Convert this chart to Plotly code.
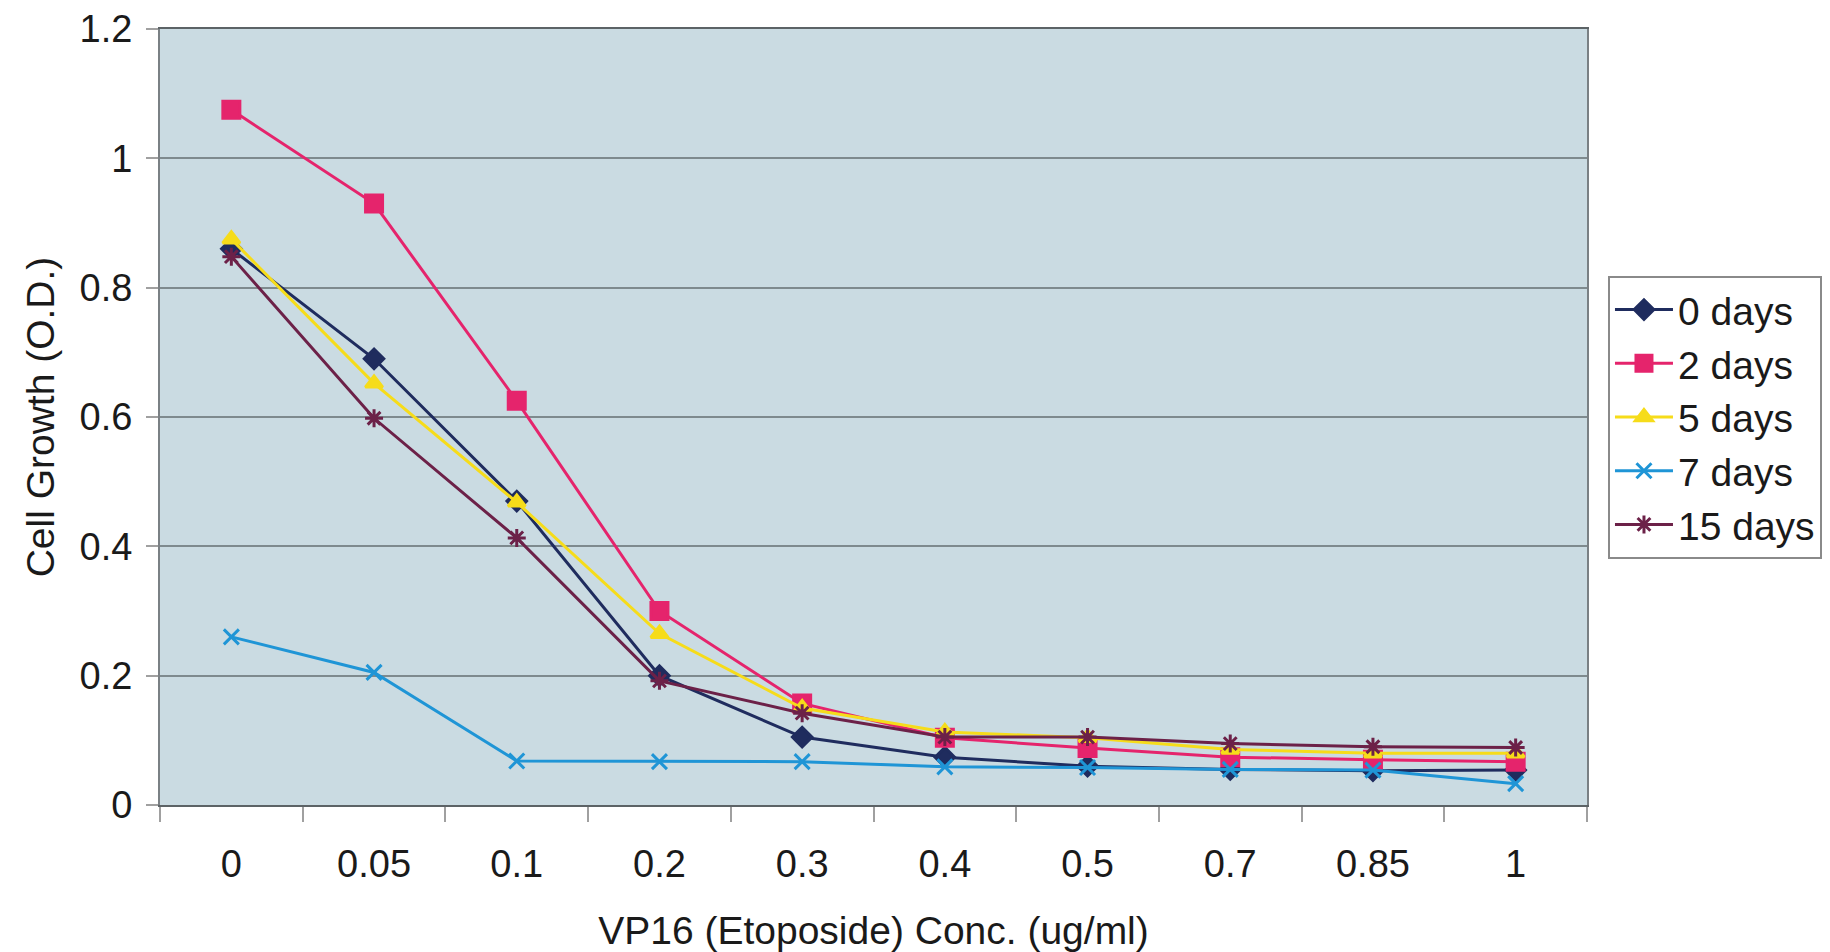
import plotly.graph_objects as go

# VP16 (etoposide) concentrations in ug/ml, plotted as categories
concentrations = ["0", "0.05", "0.1", "0.2", "0.3", "0.4", "0.5", "0.7", "0.85", "1"]

# Cell growth (O.D.) after each recovery period
days_0 = [0.86, 0.69, 0.47, 0.20, 0.105, 0.074, 0.060, 0.055, 0.053, 0.054]
days_2 = [1.075, 0.93, 0.625, 0.30, 0.157, 0.104, 0.088, 0.074, 0.070, 0.067]
days_5 = [0.875, 0.652, 0.468, 0.265, 0.150, 0.113, 0.104, 0.086, 0.080, 0.080]
days_7 = [0.26, 0.205, 0.068, 0.067, 0.067, 0.059, 0.058, 0.055, 0.054, 0.033]
days_15 = [0.848, 0.598, 0.413, 0.192, 0.142, 0.105, 0.105, 0.095, 0.090, 0.089]

series = [
    ("0 days", days_0, "#1F2C5E", "diamond", 15),
    ("2 days", days_2, "#E5246C", "square", 17),
    ("5 days", days_5, "#F6DC1A", "triangle-up", 15),
    ("7 days", days_7, "#1F95D6", "x-thin-open", 15),
    ("15 days", days_15, "#6C2148", "asterisk-open", 15),
]

FONT = "Liberation Sans, Arial, sans-serif"

fig = go.Figure()
for name, values, color, symbol, size in series:
    fig.add_trace(go.Scatter(
        x=concentrations,
        y=values,
        name=name,
        mode="lines+markers",
        line=dict(color=color, width=3),
        marker=dict(symbol=symbol, size=size, color=color,
                    line=dict(color=color, width=3)),
    ))

fig.update_layout(
    width=1830,
    height=952,
    margin=dict(l=160, r=243, t=29, b=147, autoexpand=False),
    paper_bgcolor="white",
    plot_bgcolor="#CADBE2",
    font=dict(family=FONT, size=38, color="#1a1a1a"),
    showlegend=True,
    legend=dict(
        x=1.0147, y=0.682, xanchor="left", yanchor="top",
        bgcolor="white", bordercolor="#8a8a8a", borderwidth=2,
        font=dict(family=FONT, size=39, color="#1a1a1a"),
        tracegroupgap=0, itemwidth=58,
    ),
    xaxis=dict(
        type="category",
        range=[-0.5, 9.5],
        automargin=False,
        showgrid=False,
        showline=True, linecolor="#5c6366", linewidth=2, mirror=True,
        ticks="outside", tickson="boundaries", ticklen=15, tickwidth=2,
        tickcolor="#a0a0a0",
        ticklabelstandoff=24,
        tickfont=dict(family=FONT, size=38, color="#1a1a1a"),
        title=dict(text="VP16 (Etoposide) Conc. (ug/ml)", standoff=35,
                   font=dict(family=FONT, size=39, color="#1a1a1a")),
    ),
    yaxis=dict(
        range=[0, 1.2],
        dtick=0.2,
        automargin=False,
        showgrid=True, gridcolor="#7E8A8E", gridwidth=2,
        showline=True, linecolor="#7a8084", linewidth=2, mirror=True,
        ticks="outside", ticklen=12, tickwidth=2, tickcolor="#a0a0a0",
        ticklabelstandoff=6,
        zeroline=False,
        tickfont=dict(family=FONT, size=38, color="#1a1a1a"),
        title=dict(text="Cell Growth (O.D.)", standoff=13,
                   font=dict(family=FONT, size=39, color="#1a1a1a")),
    ),
)

fig.write_html("out.html")
